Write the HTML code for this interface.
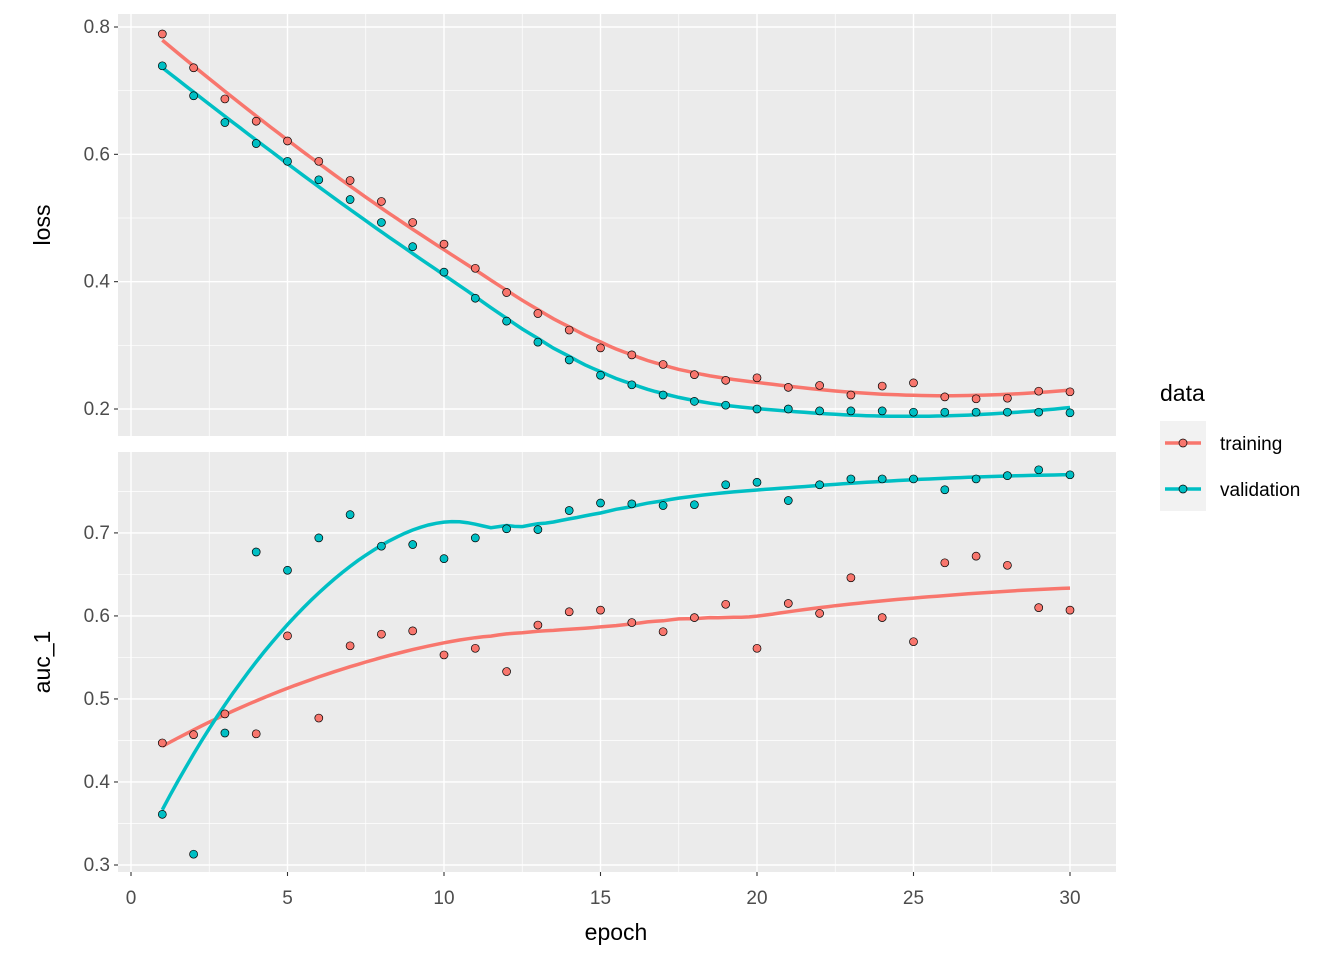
<!DOCTYPE html>
<html><head><meta charset="utf-8"><style>
body{margin:0;background:#fff}
svg{display:block;font-family:"Liberation Sans",Arial,sans-serif}
</style></head><body>
<svg id="c" width="1344" height="960"></svg>
<script>
const epochs=[1,2,3,4,5,6,7,8,9,10,11,12,13,14,15,16,17,18,19,20,21,22,23,24,25,26,27,28,29,30];
const lossTrain=[0.789,0.736,0.687,0.652,0.621,0.589,0.559,0.526,0.493,0.459,0.421,0.383,0.350,0.324,0.296,0.285,0.270,0.254,0.245,0.249,0.234,0.237,0.222,0.236,0.241,0.219,0.216,0.217,0.228,0.227];
const lossVal=[0.739,0.692,0.650,0.617,0.589,0.560,0.529,0.493,0.455,0.415,0.374,0.338,0.305,0.277,0.253,0.238,0.222,0.212,0.206,0.200,0.200,0.197,0.197,0.197,0.195,0.195,0.195,0.195,0.195,0.194];
const aucTrain=[0.447,0.457,0.482,0.458,0.576,0.477,0.564,0.578,0.582,0.553,0.561,0.533,0.589,0.605,0.607,0.592,0.581,0.598,0.614,0.561,0.615,0.603,0.646,0.598,0.569,0.664,0.672,0.661,0.610,0.607];
const aucVal=[0.361,0.313,0.459,0.677,0.655,0.694,0.722,0.684,0.686,0.669,0.694,0.705,0.704,0.727,0.736,0.735,0.733,0.734,0.758,0.761,0.739,0.758,0.765,0.765,0.765,0.752,0.765,0.769,0.776,0.770];
const xTicks=[0,5,10,15,20,25,30];
const lossTicks=[0.2,0.4,0.6,0.8];
const aucTicks=[0.3,0.4,0.5,0.6,0.7];
const seriesNames=["training","validation"];
const colors=["#F8766D","#00BFC4"];

const NS="http://www.w3.org/2000/svg";
const svg=document.getElementById('c');
function el(t,a,p){const e=document.createElementNS(NS,t);for(const k in a)e.setAttribute(k,a[k]);(p||svg).appendChild(e);return e;}
const X0=118,X1=1116;
const xs=v=>131+(v)*(1070-131)/30;
function loess(x,y,xq){const n=x.length,q=Math.floor(0.75*n);
 return xq.map(x0=>{const d=x.map(v=>Math.abs(v-x0));const ds=[...d].sort((a,b)=>a-b);const h=ds[q-1]*1.0000001;
  let S=[[0,0,0],[0,0,0],[0,0,0]],B=[0,0,0];
  for(let i=0;i<n;i++){let u=d[i]/h;if(u>=1)continue;let w=Math.pow(1-u*u*u,3);const b=[1,x[i]-x0,(x[i]-x0)**2];
   for(let r=0;r<3;r++){B[r]+=w*b[r]*y[i];for(let c=0;c<3;c++)S[r][c]+=w*b[r]*b[c];}}
  const M=S.map((r,i)=>[...r,B[i]]);
  for(let i=0;i<3;i++){let p=i;for(let k=i+1;k<3;k++)if(Math.abs(M[k][i])>Math.abs(M[p][i]))p=k;[M[i],M[p]]=[M[p],M[i]];
   for(let k=0;k<3;k++)if(k!==i){const f=M[k][i]/M[i][i];for(let c=i;c<4;c++)M[k][c]-=f*M[i][c];}}
  return M[0][3]/M[0][0];});}
function panel(name,top,bot,pTop,pBot,vmin,vmax,ticks,minorStep,data,label){
 const ys=v=>bot-(v-vmin)/(vmax-vmin)*(bot-top);
 const g=el('g',{});
 el('rect',{x:X0,y:pTop,width:X1-X0,height:pBot-pTop,fill:'#EBEBEB'},g);
 for(let v=vmin-minorStep;v<=vmax+minorStep*2;v+=minorStep*2){const yy=ys(v);if(yy>pTop&&yy<pBot)el('line',{x1:X0,x2:X1,y1:yy,y2:yy,stroke:'#fff','stroke-width':0.7},g);}
 for(let i=0;i<xTicks.length-1;i++){const xx=xs(xTicks[i]+2.5);el('line',{x1:xx,x2:xx,y1:pTop,y2:pBot,stroke:'#fff','stroke-width':0.7},g);}
 ticks.forEach(t=>{const yy=ys(t);el('line',{x1:X0,x2:X1,y1:yy,y2:yy,stroke:'#fff','stroke-width':1.4},g);
  el('line',{x1:X0-4,x2:X0,y1:yy,y2:yy,stroke:'#333','stroke-width':1.1},g);
  const tx=el('text',{x:X0-8,y:yy+6,'text-anchor':'end','font-size':19,fill:'#4D4D4D'},g);tx.textContent=String(t);
  });
 xTicks.forEach(t=>{const xx=xs(t);el('line',{x1:xx,x2:xx,y1:pTop,y2:pBot,stroke:'#fff','stroke-width':1.4},g);});
 const lt=el('text',{x:0,y:0,transform:`translate(50,${(pTop+pBot)/2}) rotate(-90)`,'text-anchor':'middle','font-size':23,fill:'#000'},g);
 lt.textContent=label;
 const fine=[];for(let x=1;x<=30.001;x+=0.25)fine.push(x);
 data.forEach((arr,si)=>{const sm=loess(epochs,arr,fine);
  const p=el('path',{d:fine.map((x,i)=>(i?'L':'M')+xs(x).toFixed(1)+','+ys(sm[i]).toFixed(1)).join(''),fill:'none',stroke:colors[si],'stroke-width':3.5},g);
  });
 data.forEach((arr,si)=>{arr.forEach((v,i)=>{const c=el('circle',{cx:xs(epochs[i]),cy:ys(v),r:4,fill:colors[si],stroke:'#000','stroke-width':0.7},g);
  });});
}
panel('loss',27,409,14,436,0.2,0.8,lossTicks,0.1,[lossTrain,lossVal],'loss');
panel('auc',465,865,452,872,0.3,0.7818,aucTicks,0.05,[aucTrain,aucVal],'auc_1');

xTicks.forEach(t=>{const xx=xs(t);el('line',{x1:xx,x2:xx,y1:872,y2:876,stroke:'#333','stroke-width':1.1});
 const tx=el('text',{x:xx,y:904,'text-anchor':'middle','font-size':19,fill:'#4D4D4D'});tx.textContent=t;
 });
const xt=el('text',{x:616,y:940,'text-anchor':'middle','font-size':23});xt.textContent='epoch';

const lg=el('g',{});
const ltt=el('text',{x:1160,y:401,'font-size':23},lg);ltt.textContent='data';
el('rect',{x:1160,y:421,width:46,height:90,fill:'#F2F2F2'},lg);
seriesNames.forEach((n,i)=>{const yy=443+i*46;
 el('line',{x1:1165,x2:1201,y1:yy,y2:yy,stroke:colors[i],'stroke-width':3.5},lg);
 el('circle',{cx:1183,cy:yy,r:4,fill:colors[i],stroke:'#000','stroke-width':0.7},lg);
 const t=el('text',{x:1220,y:yy+7,'font-size':19},lg);t.textContent=n;
 });
</script>
</body></html>
